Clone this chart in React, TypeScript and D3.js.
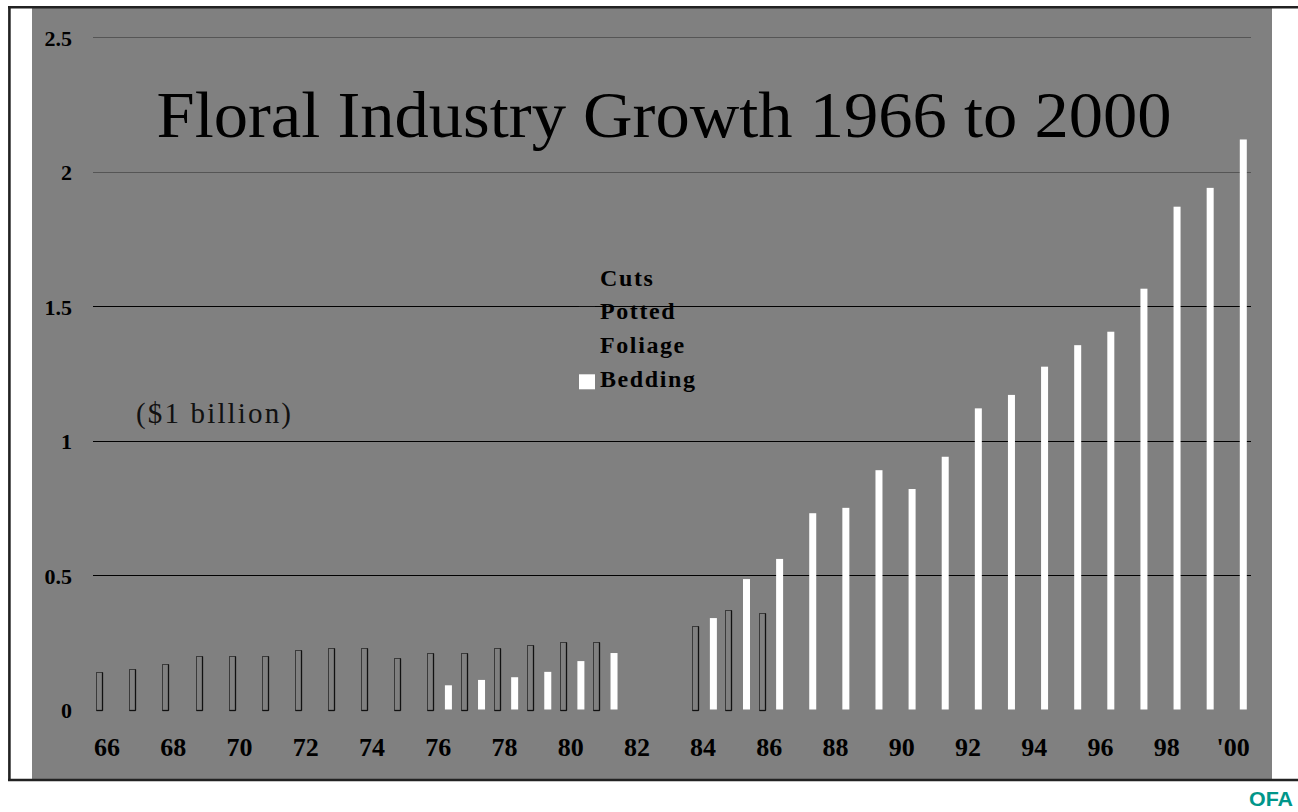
import React from "react";
import * as d3 from "d3";

// ---- Data ----
const years: string[] = [
  "66", "67", "68", "69", "70", "71", "72", "73", "74", "75",
  "76", "77", "78", "79", "80", "81", "82", "83", "84", "85",
  "86", "87", "88", "89", "90", "91", "92", "93", "94", "95",
  "96", "97", "98", "99", "00",
];

// outlined (grey) bars – Cuts / Potted / Foliage series
const cutsValues: (number | null)[] = [
  0.14, 0.15, 0.17, 0.2, 0.2, 0.2, 0.22, 0.23, 0.23, 0.19,
  0.21, 0.21, 0.23, 0.24, 0.25, 0.25, null, null, 0.31, 0.37,
  0.36, null, null, null, null, null, null, null, null, null,
  null, null, null, null, null,
];

// white bars – Bedding series
const beddingValues: (number | null)[] = [
  null, null, null, null, null, null, null, null, null, null,
  0.09, 0.11, 0.12, 0.14, 0.18, 0.21, null, null, 0.34, 0.485,
  0.56, 0.73, 0.75, 0.89, 0.82, 0.94, 1.12, 1.17, 1.275, 1.355,
  1.405, 1.565, 1.87, 1.94, 2.12,
];

const seriesKeys = ["Cuts", "Bedding"];
const legendLabels = ["Cuts", "Potted", "Foliage", "Bedding"];
const yTicks = [0, 0.5, 1, 1.5, 2, 2.5];
const yTickLabels = ["0", "0.5", "1", "1.5", "2", "2.5"];
const xTickYears = ["66", "68", "70", "72", "74", "76", "78", "80", "82", "84", "86", "88", "90", "92", "94", "96", "98", "00"];
const xTickLabels = ["66", "68", "70", "72", "74", "76", "78", "80", "82", "84", "86", "88", "90", "92", "94", "96", "98", "'00"];

const title = "Floral Industry Growth 1966 to 2000";
const unitLabel = "($1 billion)";
const sourceLabel = "OFA";

const SERIF = "'Liberation Serif', 'Times New Roman', serif";
const BG = "#808080";

export default function App() {
  const W = 1298;
  const H = 812;

  const x = d3.scaleBand<string>().domain(years).range([91.9, 91.9 + 35 * 33.12]).padding(0);
  const x1 = d3
    .scaleBand<string>()
    .domain(seriesKeys)
    .range([0, x.bandwidth()])
    .paddingInner(0.6)
    .paddingOuter(0.246);
  const y = d3.scaleLinear().domain([0, 2.5]).range([709.5, 37.3]);

  const gridColor = (v: number) => (v >= 2 ? "#555" : "#000");
  const bw = Math.round(x1.bandwidth()) - 1;

  return (
    <svg
      width={W}
      height={H}
      viewBox={`0 0 ${W} ${H}`}
      style={{ position: "absolute", left: 0, top: 0, background: "#fff" }}
    >
      {/* frame */}
      <rect x={32} y={8} width={1240} height={771} fill={BG} />
      <line x1={8} y1={7.2} x2={W} y2={7.2} stroke="#222" strokeWidth={2.4} />
      <line x1={9.4} y1={6} x2={9.4} y2={781} stroke="#222" strokeWidth={2.6} />
      <line x1={8} y1={780} x2={W} y2={780} stroke="#222" strokeWidth={2.4} />

      {/* gridlines */}
      {yTicks
        .filter((t) => t > 0)
        .map((t) => (
          <line
            key={"g" + t}
            x1={93}
            x2={1251}
            y1={Math.round(y(t)) + 0.5}
            y2={Math.round(y(t)) + 0.5}
            stroke={gridColor(t)}
            strokeWidth={1}
          />
        ))}

      {/* y tick labels */}
      {yTicks.map((t, i) => (
        <text
          key={"yl" + t}
          x={72}
          y={y(t) + 1}
          textAnchor="end"
          dominantBaseline="central"
          fontFamily={SERIF}
          fontWeight="bold"
          fontSize={22}
          fill="#000"
        >
          {yTickLabels[i]}
        </text>
      ))}

      {/* title */}
      <text
        x={664}
        y={137}
        textAnchor="middle"
        fontFamily={SERIF}
        fontSize={66}
        fill="#000"
        textLength={1015}
        lengthAdjust="spacingAndGlyphs"
      >
        {title}
      </text>

      {/* unit label */}
      <text x={136} y={423} fontFamily={SERIF} fontSize={29} fill="#111" textLength={155}>
        {unitLabel}
      </text>

      {/* bars: outlined series */}
      {years.map((yr, i) => {
        const v = cutsValues[i];
        if (v == null) return null;
        const bx = Math.round((x(yr) ?? 0) + (x1("Cuts") ?? 0)) + 0.5;
        const by = Math.round(y(v)) + 0.5;
        const bh = Math.round(y(0)) - Math.round(y(v));
        return (
          <g key={"c" + yr}>
            <rect x={bx} y={by} width={bw} height={bh} fill={BG} stroke="#3a3a3a" strokeWidth={1} />
            <line x1={bx + bw} x2={bx + bw} y1={by} y2={by + bh} stroke="#111" strokeWidth={1.3} />
            <line x1={bx} x2={bx + bw} y1={by + bh} y2={by + bh} stroke="#111" strokeWidth={1.3} />
          </g>
        );
      })}

      {/* bars: bedding (white) */}
      {years.map((yr, i) => {
        const v = beddingValues[i];
        if (v == null) return null;
        const bx = (x(yr) ?? 0) + (x1("Bedding") ?? 0);
        return (
          <rect
            key={"b" + yr}
            x={bx}
            y={y(v)}
            width={x1.bandwidth()}
            height={y(0) - y(v)}
            fill="#fff"
          />
        );
      })}

      {/* x tick labels */}
      {xTickYears.map((yr, i) => (
        <text
          key={"xl" + yr}
          x={(x(yr) ?? 0) + x.bandwidth() / 2 - 1.5}
          y={756}
          textAnchor="middle"
          fontFamily={SERIF}
          fontWeight="bold"
          fontSize={26}
          fill="#000"
        >
          {xTickLabels[i]}
        </text>
      ))}

      {/* legend */}
      {legendLabels.map((lab, i) => {
        const ly = 285.7 + i * 33.7;
        const isBedding = lab === "Bedding";
        return (
          <g key={"lg" + lab}>
            <rect x={579} y={ly - 12.5} width={16} height={15} fill={isBedding ? "#fff" : BG} />
            <text
              x={600}
              y={ly}
              fontFamily={SERIF}
              fontWeight="bold"
              fontSize={24}
              fill="#000"
              letterSpacing={1.6}
            >
              {lab}
            </text>
          </g>
        );
      })}

      {/* source */}
      <text
        x={1293}
        y={806}
        textAnchor="end"
        fontFamily="'Liberation Sans', Arial, sans-serif"
        fontWeight="bold"
        fontSize={21}
        fill="#00968a"
        textLength={44}
        lengthAdjust="spacingAndGlyphs"
      >
        {sourceLabel}
      </text>
    </svg>
  );
}
